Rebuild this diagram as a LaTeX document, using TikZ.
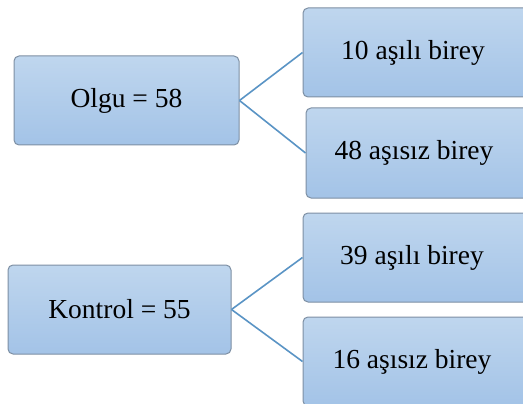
\documentclass[tikz,border=0pt]{standalone}
\usepackage{fontspec}
\setmainfont{LiberationSerif-Regular.ttf}
\usetikzlibrary{shadings}
\definecolor{boxtop}{HTML}{BFD6EE}
\definecolor{boxbot}{HTML}{A3C3E7}
\definecolor{boxline}{HTML}{7D8FA3}
\definecolor{conn}{HTML}{5A94C5}
\tikzset{
  box/.style={draw=boxline, line width=1pt, rounded corners=5pt,
    top color=boxtop, bottom color=boxbot, inner sep=0pt,
    font=\rmfamily\fontsize{27.5}{30}\selectfont, text=black},
  link/.style={draw=conn, line width=1.6pt}
}
\begin{document}
\begin{tikzpicture}[x=1pt,y=-1pt]
\useasboundingbox (0,0) rectangle (523,404);
\clip (0,0) rectangle (523,404);
\node[box, minimum width=225pt, minimum height=89pt] (olgu) at (126.5,100.5) {Olgu = 58};
\node[box, minimum width=228pt, minimum height=89pt] (a10) at (417,52.5) {\hspace*{-8pt}10 aşılı birey};
\node[box, minimum width=226pt, minimum height=90pt] (a48) at (419,153) {\hspace*{-10pt}48 aşısız birey};
\node[box, minimum width=223pt, minimum height=89pt] (kon) at (119.5,309.5) {Kontrol = 55};
\node[box, minimum width=228pt, minimum height=89pt] (a39) at (417,257.5) {\hspace*{-10pt}39 aşılı birey};
\node[box, minimum width=228pt, minimum height=89pt] (a16) at (417,361.5) {\hspace*{-10pt}16 aşısız birey};
\draw[link] (olgu.east) -- (a10.west);
\draw[link] (olgu.east) -- (a48.west);
\draw[link] (kon.east) -- (a39.west);
\draw[link] (kon.east) -- (a16.west);
\end{tikzpicture}
\end{document}
